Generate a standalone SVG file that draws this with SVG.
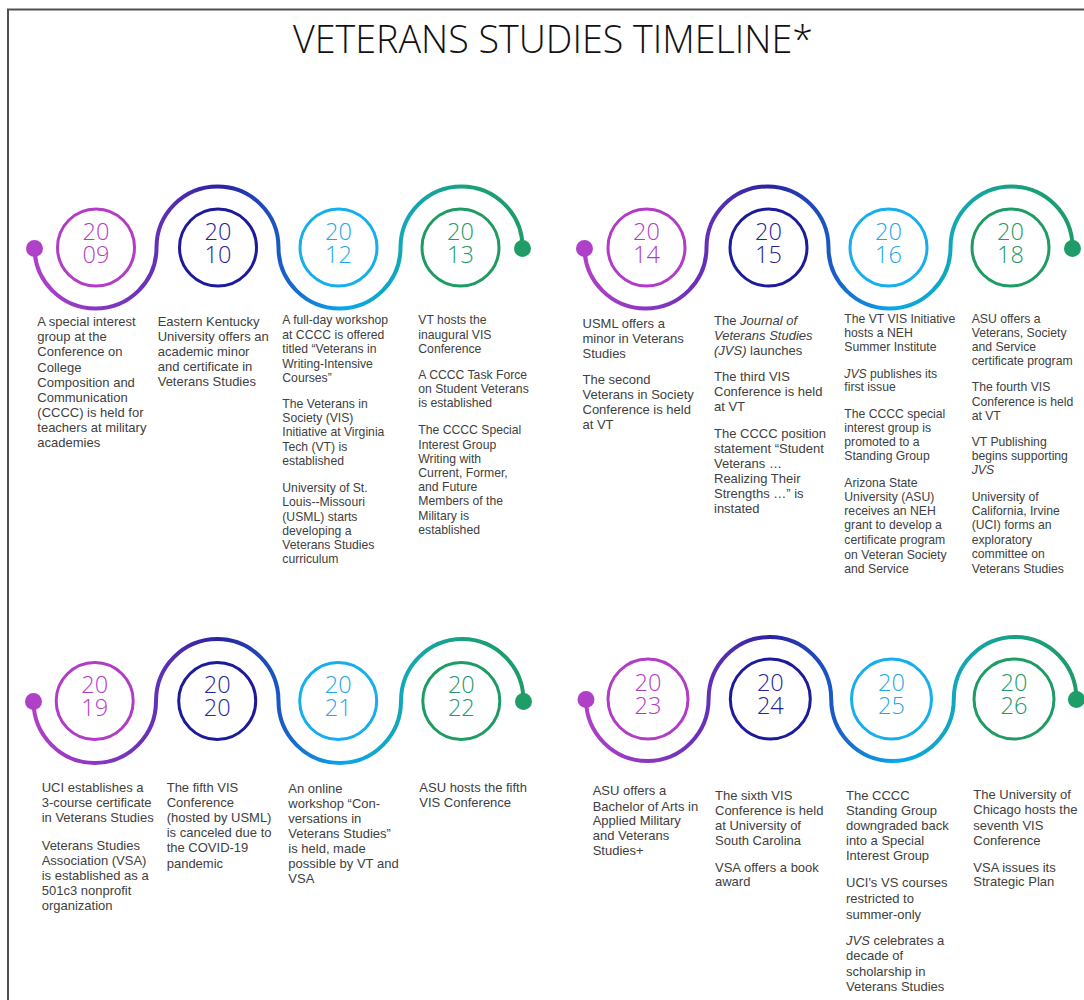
<svg xmlns="http://www.w3.org/2000/svg" width="1084" height="1000" viewBox="0 0 1084 1000">
  <defs>
    <linearGradient id="waveGrad" x1="0" y1="0" x2="1" y2="0">
      <stop offset="0" stop-color="#B13FC8"/>
      <stop offset="0.25" stop-color="#6430B8"/>
      <stop offset="0.38" stop-color="#2A22A2"/>
      <stop offset="0.5" stop-color="#1A58C4"/>
      <stop offset="0.63" stop-color="#0AA6EC"/>
      <stop offset="0.76" stop-color="#12A8B6"/>
      <stop offset="0.88" stop-color="#18A080"/>
      <stop offset="1" stop-color="#1E9C68"/>
    </linearGradient>
    <style>
      .frame { fill: none; stroke: #505050; stroke-width: 2; }
      .title { font-family: "Open Sans", "Lato", sans-serif; font-weight: 300; font-size: 39px; fill: #111111; }
      .wave { fill: none; stroke: url(#waveGrad); stroke-width: 4; stroke-linecap: round; }
      .dotA { fill: #B040C8; }
      .dotB { fill: #1F9D69; }
      .ring { fill: none; stroke-width: 3; }
      .yr { font-family: "Open Sans", "Lato", sans-serif; font-weight: 300; font-size: 23.5px; text-anchor: middle; }
      .k1 .ring { stroke: #B23CC6; } .k1 .yr { fill: #B23CC6; }
      .k2 .ring { stroke: #1C1B9C; } .k2 .yr { fill: #24239F; }
      .k3 .ring { stroke: #17AEEE; } .k3 .yr { fill: #1DA8E8; }
      .k4 .ring { stroke: #1F9B64; } .k4 .yr { fill: #23996A; }
      .desc { font-family: "Liberation Sans", Arial, sans-serif; fill: #404040; }
      .d13 { font-size: 13px; }
      .d12 { font-size: 12.2px; }
      .it { font-style: italic; }
    </style>
  </defs>

  <rect width="1084" height="1000" fill="#ffffff"/>
  <path class="frame" d="M8,1000 V9.5 H1084"/>
  <text class="title" x="553" y="53" text-anchor="middle" textLength="520" lengthAdjust="spacingAndGlyphs">VETERANS STUDIES TIMELINE*</text>

  <!-- wavy timeline tracks with their end dots -->
  <g id="connectors">
    <path class="wave" d="M34.5,247.5 A61,61 0 0 0 156.5,247.5 A61,61 0 0 1 278.5,247.5 A61,61 0 0 0 400.5,247.5 A61,61 0 0 1 522.5,247.5"/>
    <circle class="dotA" cx="34.5" cy="248.5" r="8.5"/>
    <circle class="dotB" cx="522.5" cy="248.5" r="8.5"/>

    <path class="wave" d="M584.5,247.5 A61,61 0 0 0 706.5,247.5 A61,61 0 0 1 828.5,247.5 A61,61 0 0 0 950.5,247.5 A61,61 0 0 1 1072.5,247.5"/>
    <circle class="dotA" cx="584.5" cy="248.5" r="8.5"/>
    <circle class="dotB" cx="1072.5" cy="248.5" r="8.5"/>

    <path class="wave" d="M33.5,701 A61.25,62 0 0 0 156,701 A61.25,62 0 0 1 278.5,701 A61.25,62 0 0 0 401,701 A61.25,62 0 0 1 523.5,701"/>
    <circle class="dotA" cx="33.5" cy="701.5" r="8.5"/>
    <circle class="dotB" cx="523.5" cy="701.5" r="8.5"/>

    <path class="wave" d="M586,699 A61.3,62 0 0 0 708.6,699 A61.3,62 0 0 1 831.2,699 A61.3,62 0 0 0 953.8,699 A61.3,62 0 0 1 1076.4,699"/>
    <circle class="dotA" cx="586" cy="699.5" r="8.5"/>
    <circle class="dotB" cx="1076.4" cy="699.5" r="8.5"/>
  </g>

  <!-- row 1, left track -->
  <g id="y2009" class="k1">
    <circle class="ring" cx="96" cy="247.5" r="38.5"/>
    <text class="yr"><tspan x="96" y="239.5">20</tspan><tspan x="96" y="262.5">09</tspan></text>
    <text class="desc d13">
      <tspan x="37.3" y="326.2">A special interest</tspan>
      <tspan x="37.3" y="341.3">group at the</tspan>
      <tspan x="37.3" y="356.4">Conference on</tspan>
      <tspan x="37.3" y="371.5">College</tspan>
      <tspan x="37.3" y="386.5">Composition and</tspan>
      <tspan x="37.3" y="401.6">Communication</tspan>
      <tspan x="37.3" y="416.7">(CCCC) is held for</tspan>
      <tspan x="37.3" y="431.8">teachers at military</tspan>
      <tspan x="37.3" y="446.8">academies</tspan>
    </text>
  </g>

  <g id="y2010" class="k2">
    <circle class="ring" cx="218" cy="247.5" r="38.5"/>
    <text class="yr"><tspan x="218" y="239.5">20</tspan><tspan x="218" y="262.5">10</tspan></text>
    <text class="desc d13">
      <tspan x="157.7" y="325.7">Eastern Kentucky</tspan>
      <tspan x="157.7" y="340.8">University offers an</tspan>
      <tspan x="157.7" y="355.9">academic minor</tspan>
      <tspan x="157.7" y="371">and certificate in</tspan>
      <tspan x="157.7" y="386.1">Veterans Studies</tspan>
    </text>
  </g>

  <g id="y2012" class="k3">
    <circle class="ring" cx="338.5" cy="247.5" r="38.5"/>
    <text class="yr"><tspan x="338.5" y="239.5">20</tspan><tspan x="338.5" y="262.5">12</tspan></text>
    <text class="desc d12">
      <tspan x="282.3" y="324.3">A full-day workshop</tspan>
      <tspan x="282.3" y="338.6">at CCCC is offered</tspan>
      <tspan x="282.3" y="353">titled “Veterans in</tspan>
      <tspan x="282.3" y="367.6">Writing-Intensive</tspan>
      <tspan x="282.3" y="382">Courses”</tspan>
      <tspan x="282.3" y="408.3">The Veterans in</tspan>
      <tspan x="282.3" y="422">Society (VIS)</tspan>
      <tspan x="282.3" y="436.3">Initiative at Virginia</tspan>
      <tspan x="282.3" y="451">Tech (VT) is</tspan>
      <tspan x="282.3" y="465">established</tspan>
      <tspan x="282.3" y="492">University of St.</tspan>
      <tspan x="282.3" y="506.3">Louis--Missouri</tspan>
      <tspan x="282.3" y="520.6">(USML) starts</tspan>
      <tspan x="282.3" y="534.6">developing a</tspan>
      <tspan x="282.3" y="549">Veterans Studies</tspan>
      <tspan x="282.3" y="563.3">curriculum</tspan>
    </text>
  </g>

  <g id="y2013" class="k4">
    <circle class="ring" cx="460.5" cy="247.5" r="38.5"/>
    <text class="yr"><tspan x="460.5" y="239.5">20</tspan><tspan x="460.5" y="262.5">13</tspan></text>
    <text class="desc d12">
      <tspan x="418.3" y="324.3">VT hosts the</tspan>
      <tspan x="418.3" y="338.6">inaugural VIS</tspan>
      <tspan x="418.3" y="353">Conference</tspan>
      <tspan x="418.3" y="378.6">A CCCC Task Force</tspan>
      <tspan x="418.3" y="393">on Student Veterans</tspan>
      <tspan x="418.3" y="407.3">is established</tspan>
      <tspan x="418.3" y="434.3">The CCCC Special</tspan>
      <tspan x="418.3" y="448.6">Interest Group</tspan>
      <tspan x="418.3" y="462.7">Writing with</tspan>
      <tspan x="418.3" y="477">Current, Former,</tspan>
      <tspan x="418.3" y="491">and Future</tspan>
      <tspan x="418.3" y="505.3">Members of the</tspan>
      <tspan x="418.3" y="519.8">Military is</tspan>
      <tspan x="418.3" y="533.8">established</tspan>
    </text>
  </g>

  <!-- row 1, right track -->
  <g id="y2014" class="k1">
    <circle class="ring" cx="646.5" cy="247.5" r="38.5"/>
    <text class="yr"><tspan x="646.5" y="239.5">20</tspan><tspan x="646.5" y="262.5">14</tspan></text>
    <text class="desc d13">
      <tspan x="582.5" y="327.8">USML offers a</tspan>
      <tspan x="582.5" y="342.8">minor in Veterans</tspan>
      <tspan x="582.5" y="357.8">Studies</tspan>
      <tspan x="582.5" y="383.5">The second</tspan>
      <tspan x="582.5" y="398.8">Veterans in Society</tspan>
      <tspan x="582.5" y="413.8">Conference is held</tspan>
      <tspan x="582.5" y="428.8">at VT</tspan>
    </text>
  </g>

  <g id="y2015" class="k2">
    <circle class="ring" cx="768.5" cy="247.5" r="38.5"/>
    <text class="yr"><tspan x="768.5" y="239.5">20</tspan><tspan x="768.5" y="262.5">15</tspan></text>
    <text class="desc d13">
      <tspan x="714" y="324.5">The <tspan class="it">Journal of</tspan></tspan>
      <tspan x="714" y="339.8" class="it">Veterans Studies</tspan>
      <tspan x="714" y="354.8"><tspan class="it">(JVS)</tspan> launches</tspan>
      <tspan x="714" y="381.2">The third VIS</tspan>
      <tspan x="714" y="396.2">Conference is held</tspan>
      <tspan x="714" y="411.2">at VT</tspan>
      <tspan x="714" y="437.8">The CCCC position</tspan>
      <tspan x="714" y="453">statement “Student</tspan>
      <tspan x="714" y="468">Veterans …</tspan>
      <tspan x="714" y="483">Realizing Their</tspan>
      <tspan x="714" y="498">Strengths …” is</tspan>
      <tspan x="714" y="513">instated</tspan>
    </text>
  </g>

  <g id="y2016" class="k3">
    <circle class="ring" cx="888.5" cy="247.5" r="38.5"/>
    <text class="yr"><tspan x="888.5" y="239.5">20</tspan><tspan x="888.5" y="262.5">16</tspan></text>
    <text class="desc d12">
      <tspan x="844.3" y="322.6">The VT VIS Initiative</tspan>
      <tspan x="844.3" y="337">hosts a NEH</tspan>
      <tspan x="844.3" y="351">Summer Institute</tspan>
      <tspan x="844.3" y="377.6"><tspan class="it">JVS</tspan> publishes its</tspan>
      <tspan x="844.3" y="391">first issue</tspan>
      <tspan x="844.3" y="417.6">The CCCC special</tspan>
      <tspan x="844.3" y="432">interest group is</tspan>
      <tspan x="844.3" y="446">promoted to a</tspan>
      <tspan x="844.3" y="460.3">Standing Group</tspan>
      <tspan x="844.3" y="487">Arizona State</tspan>
      <tspan x="844.3" y="501">University (ASU)</tspan>
      <tspan x="844.3" y="515">receives an NEH</tspan>
      <tspan x="844.3" y="529.3">grant to develop a</tspan>
      <tspan x="844.3" y="544.3">certificate program</tspan>
      <tspan x="844.3" y="558.6">on Veteran Society</tspan>
      <tspan x="844.3" y="572.6">and Service</tspan>
    </text>
  </g>

  <g id="y2018" class="k4">
    <circle class="ring" cx="1010.5" cy="247.5" r="38.5"/>
    <text class="yr"><tspan x="1010.5" y="239.5">20</tspan><tspan x="1010.5" y="262.5">18</tspan></text>
    <text class="desc d12">
      <tspan x="971.7" y="322.6">ASU offers a</tspan>
      <tspan x="971.7" y="337">Veterans, Society</tspan>
      <tspan x="971.7" y="351">and Service</tspan>
      <tspan x="971.7" y="365.3">certificate program</tspan>
      <tspan x="971.7" y="391">The fourth VIS</tspan>
      <tspan x="971.7" y="406">Conference is held</tspan>
      <tspan x="971.7" y="420">at VT</tspan>
      <tspan x="971.7" y="446">VT Publishing</tspan>
      <tspan x="971.7" y="460.3">begins supporting</tspan>
      <tspan x="971.7" y="474.3" class="it">JVS</tspan>
      <tspan x="971.7" y="501">University of</tspan>
      <tspan x="971.7" y="515.3">California, Irvine</tspan>
      <tspan x="971.7" y="529.3">(UCI) forms an</tspan>
      <tspan x="971.7" y="543.6">exploratory</tspan>
      <tspan x="971.7" y="557.6">committee on</tspan>
      <tspan x="971.7" y="572.6">Veterans Studies</tspan>
    </text>
  </g>

  <!-- row 2, left track -->
  <g id="y2019" class="k1">
    <circle class="ring" cx="94.7" cy="701" r="38.5"/>
    <text class="yr"><tspan x="94.7" y="693">20</tspan><tspan x="94.7" y="716">19</tspan></text>
    <text class="desc d13">
      <tspan x="41.7" y="791.5">UCI establishes a</tspan>
      <tspan x="41.7" y="806.7">3-course certificate</tspan>
      <tspan x="41.7" y="821.9">in Veterans Studies</tspan>
      <tspan x="41.7" y="849.5">Veterans Studies</tspan>
      <tspan x="41.7" y="864.5">Association (VSA)</tspan>
      <tspan x="41.7" y="879.5">is established as a</tspan>
      <tspan x="41.7" y="894.5">501c3 nonprofit</tspan>
      <tspan x="41.7" y="909.5">organization</tspan>
    </text>
  </g>

  <g id="y2020" class="k2">
    <circle class="ring" cx="217.2" cy="701" r="38.5"/>
    <text class="yr"><tspan x="217.2" y="693">20</tspan><tspan x="217.2" y="716">20</tspan></text>
    <text class="desc d13">
      <tspan x="166.7" y="791.5">The fifth VIS</tspan>
      <tspan x="166.7" y="806.7">Conference</tspan>
      <tspan x="166.7" y="821.9">(hosted by USML)</tspan>
      <tspan x="166.7" y="837.1">is canceled due to</tspan>
      <tspan x="166.7" y="852.3">the COVID-19</tspan>
      <tspan x="166.7" y="867.5">pandemic</tspan>
    </text>
  </g>

  <g id="y2021" class="k3">
    <circle class="ring" cx="338.2" cy="701" r="38.5"/>
    <text class="yr"><tspan x="338.2" y="693">20</tspan><tspan x="338.2" y="716">21</tspan></text>
    <text class="desc d13">
      <tspan x="288.3" y="792.8">An online</tspan>
      <tspan x="288.3" y="807.8">workshop “Con-</tspan>
      <tspan x="288.3" y="822.8">versations in</tspan>
      <tspan x="288.3" y="837.8">Veterans Studies”</tspan>
      <tspan x="288.3" y="853.3">is held, made</tspan>
      <tspan x="288.3" y="868.3">possible by VT and</tspan>
      <tspan x="288.3" y="882.8">VSA</tspan>
    </text>
  </g>

  <g id="y2022" class="k4">
    <circle class="ring" cx="461.3" cy="701" r="38.5"/>
    <text class="yr"><tspan x="461.3" y="693">20</tspan><tspan x="461.3" y="716">22</tspan></text>
    <text class="desc d13">
      <tspan x="419.3" y="791.5">ASU hosts the fifth</tspan>
      <tspan x="419.3" y="806.7">VIS Conference</tspan>
    </text>
  </g>

  <!-- row 2, right track -->
  <g id="y2023" class="k1">
    <circle class="ring" cx="648" cy="699" r="40"/>
    <text class="yr"><tspan x="648" y="691">20</tspan><tspan x="648" y="714">23</tspan></text>
    <text class="desc d13">
      <tspan x="592.7" y="795.2">ASU offers a</tspan>
      <tspan x="592.7" y="810.5">Bachelor of Arts in</tspan>
      <tspan x="592.7" y="825.2">Applied Military</tspan>
      <tspan x="592.7" y="840.2">and Veterans</tspan>
      <tspan x="592.7" y="855.2">Studies+</tspan>
    </text>
  </g>

  <g id="y2024" class="k2">
    <circle class="ring" cx="770.3" cy="699" r="40"/>
    <text class="yr"><tspan x="770.3" y="691">20</tspan><tspan x="770.3" y="714">24</tspan></text>
    <text class="desc d13">
      <tspan x="715" y="799.5">The sixth VIS</tspan>
      <tspan x="715" y="814.5">Conference is held</tspan>
      <tspan x="715" y="829.5">at University of</tspan>
      <tspan x="715" y="844.5">South Carolina</tspan>
      <tspan x="715" y="871.8">VSA offers a book</tspan>
      <tspan x="715" y="886.2">award</tspan>
    </text>
  </g>

  <g id="y2025" class="k3">
    <circle class="ring" cx="891.5" cy="699" r="40"/>
    <text class="yr"><tspan x="891.5" y="691">20</tspan><tspan x="891.5" y="714">25</tspan></text>
    <text class="desc d13">
      <tspan x="846" y="799.5">The CCCC</tspan>
      <tspan x="846" y="815">Standing Group</tspan>
      <tspan x="846" y="830">downgraded back</tspan>
      <tspan x="846" y="845.2">into a Special</tspan>
      <tspan x="846" y="860.2">Interest Group</tspan>
      <tspan x="846" y="887.2">UCI's VS courses</tspan>
      <tspan x="846" y="902.8">restricted to</tspan>
      <tspan x="846" y="918.5">summer-only</tspan>
      <tspan x="846" y="945.2"><tspan class="it">JVS</tspan> celebrates a</tspan>
      <tspan x="846" y="960.2">decade of</tspan>
      <tspan x="846" y="976.2">scholarship in</tspan>
      <tspan x="846" y="990.5">Veterans Studies</tspan>
    </text>
  </g>

  <g id="y2026" class="k4">
    <circle class="ring" cx="1014" cy="699" r="40"/>
    <text class="yr"><tspan x="1014" y="691">20</tspan><tspan x="1014" y="714">26</tspan></text>
    <text class="desc d13">
      <tspan x="973.3" y="798.5">The University of</tspan>
      <tspan x="973.3" y="813.8">Chicago hosts the</tspan>
      <tspan x="973.3" y="829.5">seventh VIS</tspan>
      <tspan x="973.3" y="844.5">Conference</tspan>
      <tspan x="973.3" y="871.8">VSA issues its</tspan>
      <tspan x="973.3" y="886.2">Strategic Plan</tspan>
    </text>
  </g>
</svg>
